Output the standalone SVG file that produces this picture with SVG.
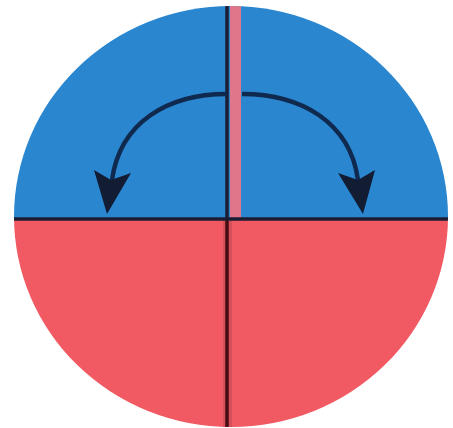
<svg xmlns="http://www.w3.org/2000/svg" width="453" height="428" viewBox="0 0 453 428">
<defs>
<style>
.ln{stroke:#1b1d33;stroke-width:3.5;fill:none}
.arc{stroke:#0f2a4e;stroke-width:4.5;fill:none}
.head{fill:#121c33}
</style>
<clipPath id="c"><ellipse cx="231" cy="216.5" rx="217" ry="210.5"/></clipPath>
</defs>
<rect width="453" height="428" fill="#ffffff"/>
<g id="disc" clip-path="url(#c)">
<rect x="0" y="0" width="453" height="219" fill="#2a86cf"/>
<rect x="0" y="219" width="453" height="209" fill="#f15a63"/>
<rect x="230" y="0" width="11" height="219" fill="#df7689"/>
<rect x="223" y="219" width="9" height="209" fill="#d4505a"/>
</g>
<g id="connectors" clip-path="url(#c)">
<line class="ln" x1="227" y1="0" x2="227" y2="219"/>
<line x1="227" y1="219" x2="227" y2="428" stroke="#4a0c12" stroke-width="3.5"/>
<line class="ln" x1="0" y1="219" x2="453" y2="219"/>
<path class="arc" d="M227 94 C168 94 120 122 112 180"/>
<polygon class="head" points="94,170 111,180 131,173 107,214"/>
<path class="arc" d="M242 94 C301 94 350 122 358 180"/>
<polygon class="head" points="338,173 358,180 375,170 363,214"/>
</g>
</svg>
